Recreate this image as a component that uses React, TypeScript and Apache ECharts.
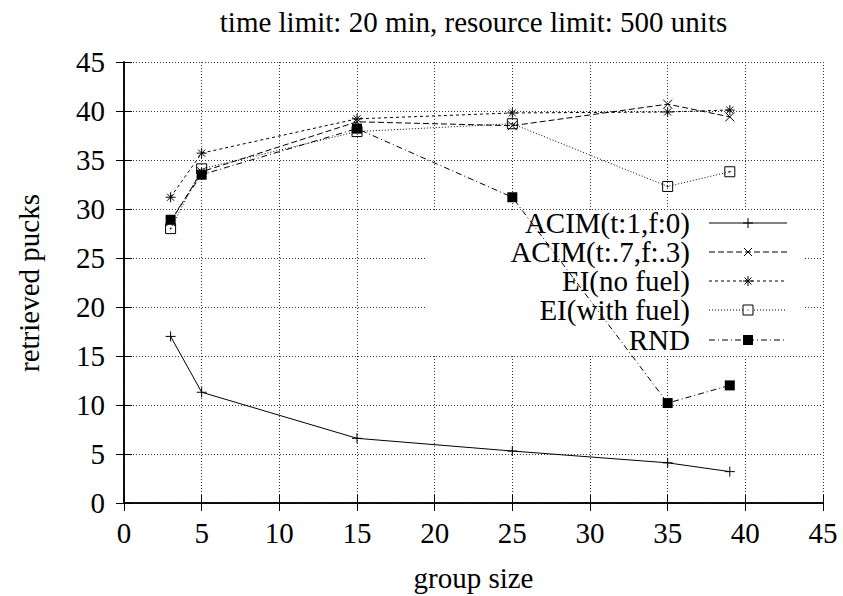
import React, { useEffect, useRef } from "react";
import * as echarts from "echarts";

// Group sizes tested and pucks retrieved by each strategy
const groupSizes = [3, 5, 15, 25, 35, 39];
const acimT1F0 = [17.0, 11.3, 6.6, 5.3, 4.1, 3.2];
const acimT7F3 = [28.7, 33.8, 38.9, 38.5, 40.7, 39.4];
const eiNoFuel = [31.2, 35.7, 39.2, 39.8, 39.9, 40.1];
const eiWithFuel = [28.0, 34.1, 37.9, 38.7, 32.3, 33.8];
const rnd = [28.9, 33.5, 38.2, 31.2, 10.2, 12.0];

const seriesNames = [
  "ACIM(t:1,f:0)",
  "ACIM(t:.7,f:.3)",
  "EI(no fuel)",
  "EI(with fuel)",
  "RND",
];

const titleText = "time limit: 20 min, resource limit: 500 units";
const xName = "group size";
const yName = "retrieved pucks";

const FONT = "'Liberation Serif', 'Times New Roman', serif";
const FONT_SIZE = 29;
const INK = "#000";

// point shapes in gnuplot style
const SYM_PLUS = "path://M0,5H10M5,0V10";
const SYM_CROSS = "path://M0,0L10,10M10,0L0,10";
const SYM_STAR = "path://M0,5H10M5,0V10M1.5,1.5L8.5,8.5M8.5,1.5L1.5,8.5";
const SYM_BOX = "path://M0,0H10V10H0Z M4.6,4.6H5.4V5.4H4.6Z";

const dashes: (number[] | "solid")[] = [
  "solid",
  [6, 3],
  [3, 3],
  [1, 2],
  [6, 3, 1, 3],
];

const pairs = (ys: number[]) => groupSizes.map((x, i) => [x, ys[i]]);

function lineSeries(
  name: string,
  ys: number[],
  dash: number[] | "solid",
  symbol: string,
  size: number,
  filled: boolean
) {
  return {
    type: "line",
    name,
    data: pairs(ys),
    symbol,
    symbolSize: size,
    showSymbol: true,
    z: 3,
    lineStyle: { color: INK, width: 1, type: dash },
    itemStyle: filled
      ? { color: INK, borderWidth: 0 }
      : { color: "transparent", borderColor: INK, borderWidth: 1 },
    emphasis: { disabled: true },
  };
}

// key entry: text, line sample and point marker on one row
function legendRow(i: number, y: number): any[] {
  const textRight = 690;
  const x0 = 709;
  const x1 = 787;
  const mx = 748;
  const dash = dashes[i];
  const els: any[] = [
    {
      type: "text",
      z: 5,
      x: textRight,
      y,
      style: {
        text: seriesNames[i],
        font: `${FONT_SIZE}px ${FONT}`,
        fill: INK,
        align: "right",
        verticalAlign: "middle",
      },
    },
    {
      type: "line",
      z: 5,
      shape: { x1: x0, y1: y, x2: x1, y2: y },
      style: {
        stroke: INK,
        lineWidth: 1,
        lineDash: dash === "solid" ? null : dash,
      },
    },
  ];
  const seg = (a: number, b: number, c: number, d: number) => ({
    type: "line",
    z: 6,
    shape: { x1: mx + a, y1: y + b, x2: mx + c, y2: y + d },
    style: { stroke: INK, lineWidth: 1 },
  });
  if (i === 0) {
    els.push(seg(-5, 0, 5, 0), seg(0, -5, 0, 5));
  } else if (i === 1) {
    els.push(seg(-4, -4, 4, 4), seg(4, -4, -4, 4));
  } else if (i === 2) {
    els.push(
      seg(-5, 0, 5, 0),
      seg(0, -5, 0, 5),
      seg(-3.5, -3.5, 3.5, 3.5),
      seg(3.5, -3.5, -3.5, 3.5)
    );
  } else if (i === 3) {
    els.push({
      type: "rect",
      z: 6,
      shape: { x: mx - 5, y: y - 5, width: 10, height: 10 },
      style: { fill: "#fff", stroke: INK, lineWidth: 1 },
    });
    els.push({
      type: "rect",
      z: 7,
      shape: { x: mx - 0.5, y: y - 0.5, width: 1, height: 1 },
      style: { fill: INK },
    });
  } else {
    els.push({
      type: "rect",
      z: 6,
      shape: { x: mx - 5, y: y - 5, width: 10, height: 10 },
      style: { fill: INK },
    });
  }
  return els;
}

export default function App() {
  const ref = useRef<HTMLDivElement>(null);

  useEffect(() => {
    if (!ref.current) return;
    const chart = echarts.init(ref.current, null, { renderer: "svg" });

    const tickLabel = {
      color: INK,
      fontSize: FONT_SIZE,
      fontFamily: FONT,
    };
    const gridLine = {
      show: true,
      lineStyle: { color: "#333", width: 1, type: [1, 2] },
    };
    const frame = { show: true, lineStyle: { color: INK, width: 1.5 } };
    const ticks = {
      show: true,
      inside: true,
      length: 8,
      lineStyle: { color: INK, width: 1 },
    };

    const rowsY = [223, 252, 281, 310, 340];
    const legendEls = rowsY.flatMap((y, i) => legendRow(i, y));

    const plainText = (text: string, x: number, y: number, rotation = 0) => ({
      type: "text",
      z: 5,
      x,
      y,
      rotation,
      style: {
        text,
        font: `${FONT_SIZE}px ${FONT}`,
        fill: INK,
        align: "center",
        verticalAlign: "middle",
      },
    });

    chart.setOption({
      animation: false,
      backgroundColor: "#fff",
      grid: { left: 124, right: 20, top: 62, bottom: 93, containLabel: false },
      xAxis: [
        {
          type: "value",
          position: "bottom",
          min: 0,
          max: 45,
          interval: 5,
          axisLine: frame,
          axisTick: ticks,
          axisLabel: { ...tickLabel, margin: 15 },
          splitLine: gridLine,
        },
        {
          type: "value",
          position: "top",
          min: 0,
          max: 45,
          interval: 5,
          axisLine: frame,
          axisTick: ticks,
          axisLabel: { show: false },
          splitLine: { show: false },
        },
      ],
      yAxis: [
        {
          type: "value",
          position: "left",
          min: 0,
          max: 45,
          interval: 5,
          axisLine: frame,
          axisTick: ticks,
          axisLabel: { ...tickLabel, margin: 19 },
          splitLine: gridLine,
        },
        {
          type: "value",
          position: "right",
          min: 0,
          max: 45,
          interval: 5,
          axisLine: frame,
          axisTick: ticks,
          axisLabel: { show: false },
          splitLine: { show: false },
        },
      ],
      series: [
        lineSeries(seriesNames[0], acimT1F0, dashes[0], SYM_PLUS, 10, false),
        lineSeries(seriesNames[1], acimT7F3, dashes[1], SYM_CROSS, 9, false),
        lineSeries(seriesNames[2], eiNoFuel, dashes[2], SYM_STAR, 10, false),
        lineSeries(seriesNames[3], eiWithFuel, dashes[3], SYM_BOX, 10, false),
        lineSeries(seriesNames[4], rnd, dashes[4], "rect", 10, true),
      ],
      graphic: {
        elements: [
          // opaque key box: hides the grid behind the key
          {
            type: "rect",
            z: 1,
            shape: { x: 427, y: 210, width: 378, height: 145 },
            style: { fill: "#fff" },
            silent: true,
          },
          ...legendEls,
          plainText(titleText, 473.5, 22),
          plainText(xName, 473.5, 578),
          plainText(yName, 29, 283, Math.PI / 2),
        ],
      },
    });

    return () => chart.dispose();
  }, []);

  return (
    <div
      ref={ref}
      style={{ width: 843, height: 596, position: "absolute", left: 0, top: 0 }}
    />
  );
}
